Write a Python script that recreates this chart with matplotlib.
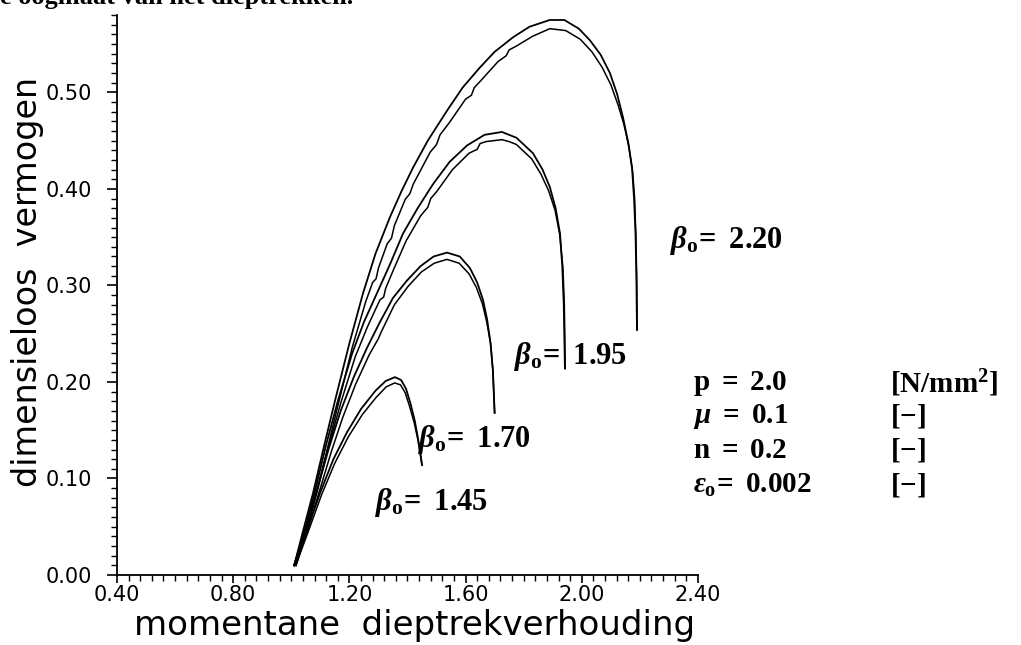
import matplotlib
matplotlib.use('Agg')
import matplotlib.pyplot as plt
from matplotlib.ticker import MultipleLocator

# bold serif look for the annotations (roman + greek)
plt.rcParams['mathtext.fontset'] = 'custom'
plt.rcParams['mathtext.rm'] = 'Liberation Serif:bold'
plt.rcParams['mathtext.it'] = 'Liberation Serif:italic:bold'
plt.rcParams['mathtext.bf'] = 'Liberation Serif:bold'

# beta_o = 2.20 : smooth (outer) and stepped (inner) line
x220_outer = [1.010, 1.040, 1.075, 1.110, 1.150, 1.200, 1.247, 1.290, 1.340, 1.380, 1.419, 1.470,
              1.536, 1.590, 1.650, 1.700, 1.763, 1.820, 1.890, 1.940, 1.990, 2.028, 2.065, 2.097,
              2.122, 2.142, 2.160, 2.173, 2.180, 2.185, 2.188, 2.190]
y220_outer = [0.010, 0.045, 0.085, 0.130, 0.180, 0.240, 0.292, 0.333, 0.371, 0.398, 0.422, 0.450,
              0.481, 0.505, 0.526, 0.542, 0.557, 0.568, 0.575, 0.575, 0.566, 0.554, 0.539, 0.520,
              0.498, 0.474, 0.448, 0.422, 0.390, 0.354, 0.310, 0.254]
x220_inner = [1.016, 1.052, 1.086, 1.122, 1.160, 1.210, 1.256, 1.280, 1.292, 1.300, 1.330, 1.345,
              1.355, 1.392, 1.408, 1.420, 1.478, 1.500, 1.512, 1.545, 1.600, 1.620, 1.630, 1.655,
              1.712, 1.740, 1.750, 1.775, 1.830, 1.890, 1.945, 1.995, 2.035, 2.070, 2.100, 2.125,
              2.145, 2.162, 2.175, 2.182, 2.186, 2.189, 2.191]
y220_inner = [0.010, 0.045, 0.085, 0.128, 0.175, 0.236, 0.283, 0.303, 0.307, 0.318, 0.343, 0.349,
              0.362, 0.389, 0.395, 0.405, 0.438, 0.446, 0.456, 0.469, 0.493, 0.497, 0.505, 0.513,
              0.532, 0.538, 0.544, 0.548, 0.558, 0.566, 0.564, 0.555, 0.542, 0.526, 0.508, 0.487,
              0.467, 0.444, 0.418, 0.390, 0.354, 0.310, 0.254]

# beta_o = 1.95
x195_outer = [1.010, 1.045, 1.080, 1.120, 1.160, 1.210, 1.250, 1.295, 1.340, 1.385, 1.435, 1.488,
              1.545, 1.605, 1.665, 1.725, 1.775, 1.832, 1.865, 1.890, 1.910, 1.925, 1.933, 1.938,
              1.942]
y195_outer = [0.010, 0.045, 0.085, 0.135, 0.180, 0.230, 0.262, 0.292, 0.322, 0.354, 0.380, 0.405,
              0.428, 0.445, 0.456, 0.459, 0.453, 0.437, 0.420, 0.402, 0.380, 0.354, 0.319, 0.280,
              0.214]
x195_inner = [1.016, 1.052, 1.088, 1.128, 1.170, 1.220, 1.262, 1.305, 1.318, 1.325, 1.350, 1.395,
              1.445, 1.470, 1.480, 1.500, 1.555, 1.612, 1.640, 1.650, 1.670, 1.725, 1.750, 1.775,
              1.828, 1.860, 1.886, 1.908, 1.924, 1.935, 1.940, 1.943]
y195_inner = [0.010, 0.045, 0.085, 0.133, 0.178, 0.226, 0.257, 0.285, 0.288, 0.297, 0.315, 0.346,
              0.372, 0.381, 0.390, 0.397, 0.420, 0.437, 0.441, 0.447, 0.449, 0.451, 0.449, 0.446,
              0.431, 0.415, 0.398, 0.378, 0.353, 0.319, 0.280, 0.214]

# beta_o = 1.70
x170_outer = [1.010, 1.050, 1.090, 1.130, 1.170, 1.215, 1.260, 1.305, 1.350, 1.398, 1.445, 1.490,
              1.536, 1.580, 1.615, 1.640, 1.660, 1.674, 1.686, 1.694, 1.700]
y170_outer = [0.010, 0.048, 0.090, 0.132, 0.170, 0.205, 0.235, 0.262, 0.287, 0.305, 0.320, 0.330,
              0.334, 0.330, 0.318, 0.303, 0.285, 0.265, 0.240, 0.212, 0.168]
x170_inner = [1.016, 1.058, 1.098, 1.138, 1.178, 1.222, 1.268, 1.300, 1.310, 1.355, 1.402, 1.448,
              1.492, 1.536, 1.578, 1.612, 1.637, 1.658, 1.673, 1.686, 1.694, 1.700]
y170_inner = [0.010, 0.048, 0.088, 0.128, 0.164, 0.198, 0.228, 0.245, 0.252, 0.280, 0.299, 0.314,
              0.323, 0.327, 0.323, 0.312, 0.298, 0.281, 0.262, 0.240, 0.212, 0.168]

# beta_o = 1.45
x145_outer = [1.010, 1.050, 1.099, 1.145, 1.192, 1.240, 1.290, 1.325, 1.357, 1.378, 1.395, 1.410,
              1.425, 1.437, 1.445, 1.450]
y145_outer = [0.010, 0.043, 0.085, 0.120, 0.148, 0.172, 0.191, 0.201, 0.205, 0.202, 0.193, 0.178,
              0.160, 0.140, 0.125, 0.114]
x145_inner = [1.015, 1.056, 1.104, 1.150, 1.196, 1.244, 1.292, 1.327, 1.356, 1.376, 1.392, 1.407,
              1.423, 1.436, 1.444, 1.450]
y145_inner = [0.010, 0.043, 0.083, 0.116, 0.143, 0.166, 0.184, 0.195, 0.199, 0.197, 0.189, 0.175,
              0.158, 0.140, 0.125, 0.114]

curve_labels = ['2.20', '1.95', '1.70', '1.45']
label_pos = [(2.304, 0.347), (1.767, 0.226), (1.436, 0.140), (1.288, 0.075)]

param_names = [r'$\mathrm{p\ =\ 2.0}$',
               r'$\mu\ \mathrm{=\ 0.1}$',
               r'$\mathrm{n\ =\ 0.2}$',
               r'$\epsilon_{\mathrm{o}}\!\mathrm{=\ 0.002}$']
param_units = [r'$\mathrm{[N/mm}^{\mathrm{2}}\mathrm{]}$', r'$\mathrm{[-]}$',
               r'$\mathrm{[-]}$', r'$\mathrm{[-]}$']

fig = plt.figure(figsize=(10.21, 6.45), dpi=100)
ax = fig.add_axes([0.1146, 0.1085, 0.569, 0.868])

curves = [
    (x220_outer, y220_outer, x220_inner, y220_inner),
    (x195_outer, y195_outer, x195_inner, y195_inner),
    (x170_outer, y170_outer, x170_inner, y170_inner),
    (x145_outer, y145_outer, x145_inner, y145_inner),
]
for xo, yo, xi, yi in curves:
    ax.plot(xo, yo, color='black', lw=1.3, solid_joinstyle='round')
    ax.plot(xi, yi, color='black', lw=1.1, solid_joinstyle='round')

for lab, (tx, ty) in zip(curve_labels, label_pos):
    ax.text(tx, ty, r'$\beta_{\mathrm{o}}\!\mathrm{=\ ' + lab + '}$',
            fontsize=22, ha='left', va='center', clip_on=False)

ax.set_xlim(0.4, 2.4)
ax.set_ylim(0.0, 0.58)
ax.xaxis.set_major_locator(MultipleLocator(0.4))
ax.xaxis.set_minor_locator(MultipleLocator(0.04))
ax.yaxis.set_major_locator(MultipleLocator(0.1))
ax.yaxis.set_minor_locator(MultipleLocator(0.01))
ax.xaxis.set_major_formatter(plt.FuncFormatter(lambda v, p: f'{v:.2f}'))
ax.yaxis.set_major_formatter(plt.FuncFormatter(lambda v, p: f'{v:.2f}'))

for side in ['top', 'right']:
    ax.spines[side].set_visible(False)
for side in ['left', 'bottom']:
    ax.spines[side].set_linewidth(1.3)

ax.tick_params(axis='y', which='major', direction='out', length=7, width=1.2, pad=11, labelsize=15)
ax.tick_params(axis='y', which='minor', direction='out', length=4, width=1.0)
ax.tick_params(axis='x', which='major', direction='out', length=6, width=1.2, pad=1, labelsize=15)
ax.tick_params(axis='x', which='minor', direction='out', length=4, width=1.0)

ax.set_xlabel('momentane  dieptrekverhouding', fontsize=24.5)
ax.xaxis.set_label_coords(0.513, -0.06)
ax.set_ylabel('dimensieloos  vermogen', fontsize=24)
ax.yaxis.set_label_coords(-0.125, 0.523)

# parameter block on the right
row_y = [0.406, 0.354, 0.302, 0.248]
for name, unit, ry in zip(param_names, param_units, row_y):
    fig.text(0.679, ry, name, fontsize=21, ha='left', va='center')
    fig.text(0.872, ry, unit, fontsize=21, ha='left', va='center')

# clipped running text from the page above the figure
fig.text(0.0, 1.004, 'e oogmaat van het dieptrekken.', fontsize=19, fontweight='bold',
         family='Liberation Serif', ha='left', va='center')

fig.savefig('out.png', dpi=100)
